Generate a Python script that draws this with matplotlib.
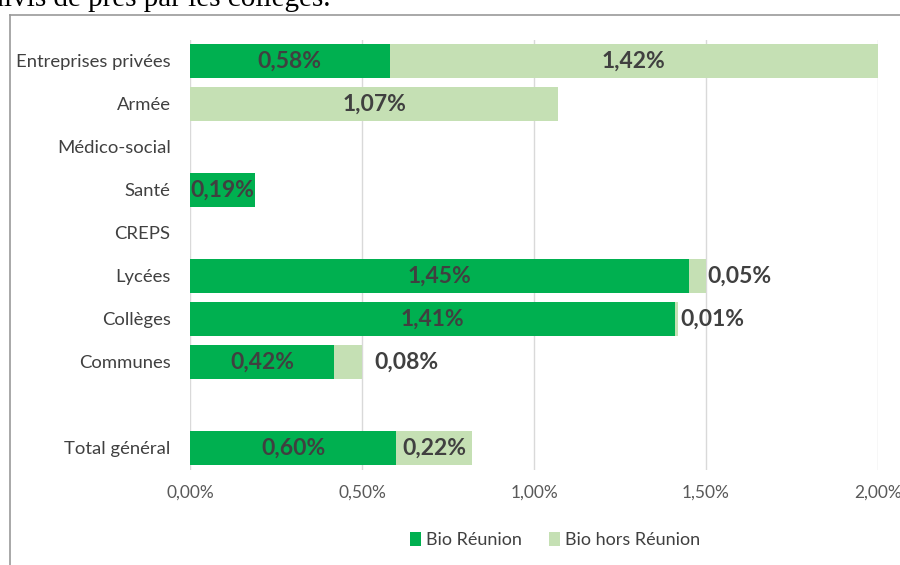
import matplotlib

matplotlib.use("Agg")
import matplotlib.pyplot as plt  # noqa: E402
from matplotlib.lines import Line2D  # noqa: E402

categories = ["Entreprises privées", "Armée", "Médico-social", "Santé", "CREPS",
              "Lycées", "Collèges", "Communes", "", "Total général"]
bio_reunion = [0.58, 0.0, 0.0, 0.19, 0.0, 1.45, 1.41, 0.42, 0.0, 0.60]
bio_hors = [1.42, 1.07, 0.0, 0.0, 0.0, 0.05, 0.01, 0.08, 0.0, 0.22]
series_names = ["Bio Réunion", "Bio hors Réunion"]
xticks = [0.0, 0.5, 1.0, 1.5, 2.0]

DARK = "#00B050"
LIGHT = "#C5E0B4"
TXT = "#404040"

plt.rcParams["font.family"] = ["Lato", "DejaVu Sans"]

fig = plt.figure(figsize=(9, 5.65), dpi=100)
ax = fig.add_axes([190 / 900, 95.5 / 565, 688 / 900, 430 / 565])

ypos = list(range(len(categories)))
ax.barh(ypos, bio_reunion, height=0.8, color=DARK, label=series_names[0], zorder=2)
ax.barh(ypos, bio_hors, left=bio_reunion, height=0.8, color=LIGHT, label=series_names[1], zorder=2)


def fmt(v):
    return f"{v:.2f}%".replace(".", ",")


for y, a, b in zip(ypos, bio_reunion, bio_hors):
    if a > 0:
        ax.text(a / 2, y, fmt(a), ha="center", va="center", fontsize=16.5,
                fontweight="bold", color=TXT, zorder=3)
    if b > 0:
        if b < 0.1:
            ax.text(a + b + 0.005 + (0.03 if b > 0.06 else 0), y, fmt(b), ha="left", va="center",
                    fontsize=16.5, fontweight="bold", color=TXT, zorder=3)
        else:
            ax.text(a + b / 2, y, fmt(b), ha="center", va="center", fontsize=16.5,
                    fontweight="bold", color=TXT, zorder=3)

ax.set_xlim(0, 2.0)
ax.set_ylim(len(categories) - 0.5, -0.5)
ax.set_xticks(xticks)
ax.set_xticklabels([fmt(t) for t in xticks], fontsize=12.5, color="#595959")
ax.set_yticks(ypos)
ax.set_yticklabels(categories, fontsize=13.3, color=TXT)
ax.tick_params(axis="x", length=0, pad=11)
ax.tick_params(axis="y", length=0, pad=14)
ax.grid(axis="x", color="#D9D9D9", linewidth=1, zorder=0)
for s in ax.spines.values():
    s.set_visible(False)

leg = fig.legend(loc="center", bbox_to_anchor=(555 / 900, 1 - 540 / 565), ncol=2,
                 frameon=False, fontsize=13, handlelength=0.6, handleheight=0.8,
                 handletextpad=0.3, columnspacing=1.5, labelcolor=TXT)

# document frame and text above
fig.add_artist(Line2D([10 / 900, 10 / 900], [0, 1 - 15 / 565], color="#9A9A9A", lw=1.2))
fig.add_artist(Line2D([10 / 900, 1], [1 - 15 / 565, 1 - 15 / 565], color="#9A9A9A", lw=1.2))
fig.text(330 / 900, 1 - 6 / 565, "suivis de près par les collèges.", ha="right", va="baseline",
         fontsize=21, family="Liberation Serif", color="black")

fig.savefig("out.png", dpi=100)
plt.close(fig)
